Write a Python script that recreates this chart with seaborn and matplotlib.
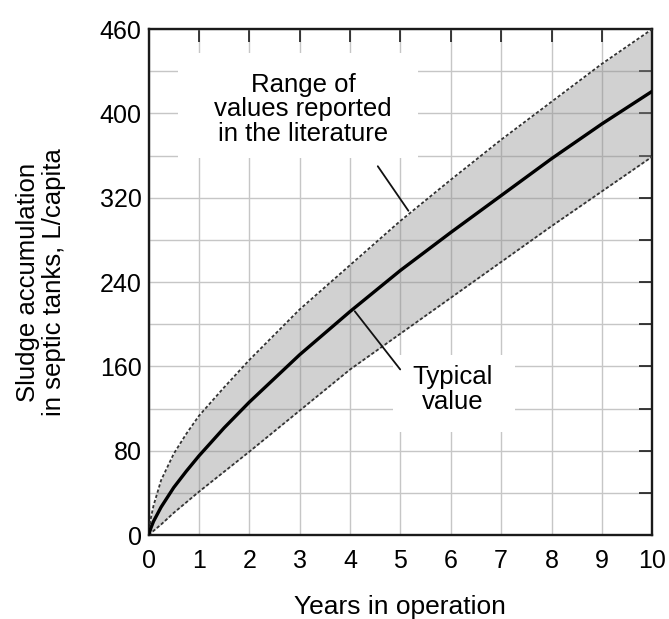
import numpy as np
import pandas as pd
import matplotlib
matplotlib.use("Agg")
import matplotlib.pyplot as plt
from matplotlib.patches import Rectangle
import seaborn as sns

# Sludge accumulation in septic tanks (L/capita) versus years in operation
years = [0, 0.05, 0.1, 0.25, 0.5, 0.75, 1, 1.5, 2, 3, 4, 5, 6, 7, 8, 9, 10]
typical = [0, 7, 13, 26.5, 45, 60.5, 75, 101.6, 126, 171, 212, 251, 287, 322, 357, 390, 421]
upper = [0, 17, 28, 52, 77, 96, 113, 140, 166, 214, 256, 298, 337, 375, 411, 447, 480]
lower = [0, 2, 4, 10, 21, 31, 41, 60, 79, 118, 157, 191, 225, 259, 293, 326, 359]

x_ticks = list(range(11))
y_tick_pos = [0, 80, 160, 240, 320, 400, 480]
y_tick_labels = ["0", "80", "160", "240", "320", "400", "460"]
y_minor = [40, 120, 200, 280, 360, 440]

sns.set_theme(style="white")
plt.rcParams["font.family"] = ["Liberation Sans", "DejaVu Sans"]
plt.rcParams["text.color"] = "black"
plt.rcParams["axes.labelcolor"] = "black"
plt.rcParams["xtick.color"] = "black"
plt.rcParams["ytick.color"] = "black"

df = pd.DataFrame({"years": years, "typical": typical,
                   "upper": upper, "lower": lower})

fig = plt.figure(figsize=(6.69, 6.19), dpi=100)
ax = fig.add_axes([0.222, 0.1357, 0.753, 0.8174])
ax.set_axisbelow(True)

# shaded band of reported values
ax.fill_between(df["years"], df["lower"], df["upper"],
                color="#8c8c8c", alpha=0.4, lw=0, zorder=2)
dash = (0, (1.8, 1.2))
sns.lineplot(data=df, x="years", y="upper", ax=ax, color="#333333",
             lw=1.3, linestyle=dash, zorder=3)
sns.lineplot(data=df, x="years", y="lower", ax=ax, color="#333333",
             lw=1.3, linestyle=dash, zorder=3)
sns.lineplot(data=df, x="years", y="typical", ax=ax, color="black",
             lw=2.4, zorder=4)

ax.set_xlim(0, 10)
ax.set_ylim(0, 480)
ax.set_xticks(x_ticks)
ax.set_yticks(y_tick_pos, y_tick_labels)
ax.set_yticks(y_minor, minor=True)
ax.grid(which="both", color="#c6c6c6", lw=1.0)

ax.tick_params(which="both", direction="in", length=9.4, width=1.2,
               color="#1a1a1a", top=True, right=True)
ax.tick_params(axis="x", labelsize=18, pad=10)
ax.tick_params(axis="y", labelsize=18, pad=5)
for s in ax.spines.values():
    s.set_linewidth(1.7)
    s.set_color("#1a1a1a")

ax.set_xlabel("Years in operation", fontsize=19, labelpad=16)
ax.set_ylabel("Sludge accumulation\nin septic tanks, L/capita",
              fontsize=18.5, labelpad=24, linespacing=1.12)

# white backgrounds behind the annotations
ax.add_patch(Rectangle((0.59, 358), 4.76, 99, fc="white", ec="none", zorder=1))
ax.add_patch(Rectangle((4.86, 98), 2.42, 73, fc="white", ec="none", zorder=1))

ax.text(3.07, 404, "Range of\nvalues reported\nin the literature",
        ha="center", va="center", fontsize=18.5, linespacing=1.02, zorder=5)
ax.text(6.03, 138, "Typical\nvalue", ha="center", va="center",
        fontsize=18.5, linespacing=1.02, zorder=5)

t_up = 5.19
ax.annotate("", xy=(t_up, np.interp(t_up, years, upper)), xytext=(4.52, 352),
            arrowprops=dict(arrowstyle="-", lw=1.3, color="#111111"), zorder=5)
t_typ = 4.06
ax.annotate("", xy=(t_typ, np.interp(t_typ, years, typical)), xytext=(5.03, 155),
            arrowprops=dict(arrowstyle="-", lw=1.3, color="#111111"), zorder=5)

fig.savefig("out.png", dpi=100)
